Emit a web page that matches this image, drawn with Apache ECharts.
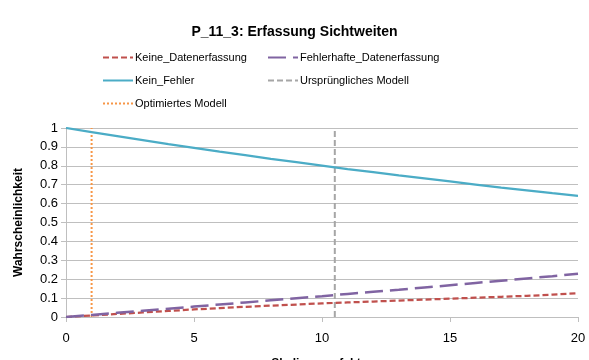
<!DOCTYPE html>
<html><head><meta charset="utf-8">
<script src="https://cdn.jsdelivr.net/npm/echarts@6/dist/echarts.min.js"></script>
<style>html,body{margin:0;padding:0;background:#fff}#c{width:589px;height:360px}</style>
</head><body><div id="c"></div>
<script>
const xValues = [0,1,2,3,4,5,6,7,8,9,10,11,12,13,14,15,16,17,18,19,20];
const keineDatenerfassung = [0,0.008,0.016,0.024,0.032,0.040,0.047,0.054,0.060,0.066,0.072,0.077,0.082,0.087,0.092,0.097,0.102,0.107,0.112,0.118,0.126];
const fehlerhafteDatenerfassung = [0,0.011,0.022,0.033,0.044,0.055,0.066,0.077,0.088,0.099,0.110,0.122,0.133,0.144,0.156,0.168,0.180,0.192,0.204,0.216,0.229];
const keinFehler = [1,0.978,0.957,0.936,0.915,0.895,0.875,0.856,0.837,0.819,0.801,0.783,0.766,0.749,0.733,0.717,0.701,0.685,0.670,0.655,0.641];
const urspruenglichesX = 10.5;
const optimiertesX = 1;
const markerSpan = [0, 1];
const xTicks = [0,5,10,15,20];
const yTicks = [0,0.1,0.2,0.3,0.4,0.5,0.6,0.7,0.8,0.9,1];

const pair = (xs, ys) => xs.map((x,i)=>[x, ys[i]]);
const vline = (x) => markerSpan.map(y=>[x,y]);
const font = 'Liberation Sans';
const chart = echarts.init(document.getElementById('c'));
const legendCommon = {orient:'vertical', top:47, itemGap:12, itemWidth:30, itemHeight:10,
  itemStyle:{opacity:0},
  textStyle:{fontFamily:font, fontSize:11, color:'#000', padding:[0,0,0,-3]}};
chart.setOption({
  animation:false,
  textStyle:{fontFamily:font},
  title:{text:'P_11_3: Erfassung Sichtweiten', left:'center', top:20,
    textStyle:{fontFamily:font, fontSize:14, fontWeight:'bold', color:'#000'}},
  legend:[
    Object.assign({left:97, data:['Keine_Datenerfassung','Kein_Fehler','Optimiertes Modell']}, legendCommon),
    Object.assign({left:262, data:['Fehlerhafte_Datenerfassung','Ursprüngliches Modell']}, legendCommon)
  ],
  grid:{left:66, right:11, top:128, bottom:43, containLabel:false, outerBoundsMode:'none'},
  xAxis:{type:'value', min:0, max:20, interval:5,
    name:'Skalierungsfaktor', nameLocation:'middle', nameGap:41,
    nameTextStyle:{fontFamily:font, fontSize:12, fontWeight:'bold', color:'#000'},
    axisLine:{lineStyle:{color:'#BFBFBF'}},
    axisTick:{show:true, length:5, lineStyle:{color:'#BFBFBF'}},
    axisLabel:{fontFamily:font, fontSize:13, color:'#000', margin:15,
      formatter:v=>xTicks.includes(v)?String(v):''},
    splitLine:{show:false}},
  yAxis:{type:'value', min:0, max:1, interval:0.1,
    name:'Wahrscheinlichkeit', nameLocation:'middle', nameGap:41,
    nameTextStyle:{fontFamily:font, fontSize:12, fontWeight:'bold', color:'#000'},
    axisLine:{show:true, lineStyle:{color:'#BFBFBF'}},
    axisTick:{show:true, length:5, lineStyle:{color:'#BFBFBF'}},
    axisLabel:{fontFamily:font, fontSize:13, color:'#000', margin:8,
      formatter:v=>{const t=yTicks.find(k=>Math.abs(k-v)<1e-9); return t===undefined?'':String(+t.toFixed(1));}},
    splitLine:{show:true, lineStyle:{color:'#BFBFBF', width:1}}},
  series:[
    {name:'Keine_Datenerfassung', type:'line', data:pair(xValues,keineDatenerfassung),
     showSymbol:false, symbol:'none', z:3, color:'#C0504D',
     lineStyle:{color:'#C0504D', width:2.25, type:[6,3]}},
    {name:'Fehlerhafte_Datenerfassung', type:'line', data:pair(xValues,fehlerhafteDatenerfassung),
     showSymbol:false, symbol:'none', z:4, color:'#8064A2',
     lineStyle:{color:'#8064A2', width:2.5, type:[18,7]}},
    {name:'Kein_Fehler', type:'line', data:pair(xValues,keinFehler),
     showSymbol:false, symbol:'none', z:4, color:'#4BACC6',
     lineStyle:{color:'#4BACC6', width:2.25}},
    {name:'Ursprüngliches Modell', type:'line', data:vline(urspruenglichesX),
     showSymbol:false, symbol:'none', z:2, color:'#A6A6A6',
     lineStyle:{color:'#A6A6A6', width:2, type:[6,3]}},
    {name:'Optimiertes Modell', type:'line', data:vline(optimiertesX),
     showSymbol:false, symbol:'none', z:2, color:'#F79646',
     lineStyle:{color:'#F79646', width:2, type:[2,2]}}
  ]
});
</script></body></html>
